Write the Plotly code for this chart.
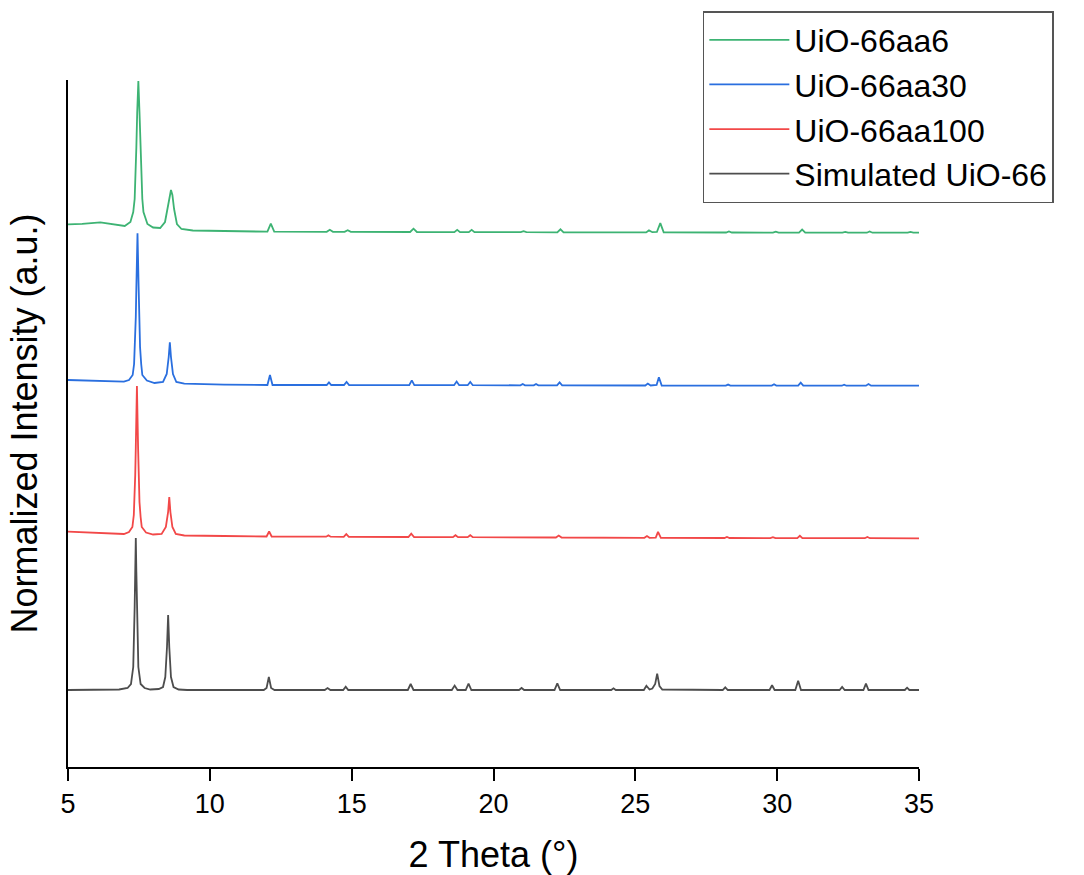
import plotly.graph_objects as go

# ---- data (2θ in degrees, stacked normalized intensity in a.u.) ----
names = ["UiO-66aa6", "UiO-66aa30", "UiO-66aa100", "Simulated UiO-66"]

x_aa6 = [5.0, 5.5, 6.14, 6.6, 7.0, 7.2, 7.3, 7.35, 7.38, 7.41, 7.44, 7.48, 7.52, 7.55, 7.58, 7.62, 7.66, 7.8, 8.0,
         8.25, 8.42, 8.52, 8.58, 8.63, 8.68, 8.74, 8.84, 9.0, 9.4, 10.5,
         12.03, 12.15, 12.27, 14.12, 14.23, 14.34, 14.75, 14.86, 14.97, 17.06, 17.18, 17.3,
         18.62, 18.72, 18.82, 19.13, 19.23, 19.33, 20.96, 21.06, 21.16, 22.25, 22.36, 22.47,
         25.38, 25.48, 25.6, 25.76, 25.88, 26.0, 28.2, 28.3, 28.4, 29.85, 29.95, 30.05,
         30.77, 30.88, 30.99, 32.3, 32.4, 32.5, 33.16, 33.26, 33.36, 34.6, 34.7, 34.8, 35.0]
y_aa6 = [542.7, 543.2, 544.7, 542.5, 541.0, 545.0, 555.0, 568.0, 590.0, 620.0, 655.0, 686.0, 655.0, 620.0, 590.0,
         568.0, 555.0, 543.0, 539.5,
         539.0, 545.0, 560.0, 572.0, 577.0, 572.0, 558.0, 543.0, 538.0, 536.5, 535.8,
         535.3, 543.3, 535.3, 535.2, 537.2, 535.2, 535.1, 536.8, 535.1, 535.0, 538.3, 535.0,
         534.9, 537.2, 534.9, 534.9, 537.2, 534.9, 534.8, 535.8, 534.8, 534.7, 537.7, 534.7,
         534.6, 536.6, 534.8, 535.0, 543.9, 534.6, 534.5, 535.5, 534.5, 534.4, 535.4, 534.4,
         534.4, 537.4, 534.4, 534.4, 535.1, 534.4, 534.3, 535.6, 534.3, 534.3, 535.0, 534.3, 534.3]

x_aa30 = [5.0, 6.0, 6.97, 7.15, 7.28, 7.33, 7.36, 7.39, 7.41, 7.45, 7.49, 7.51, 7.54, 7.58, 7.62, 7.78, 8.05,
          8.35, 8.48, 8.55, 8.59, 8.63, 8.7, 8.82, 9.1, 10.5,
          12.03, 12.12, 12.21, 14.12, 14.2, 14.28, 14.73, 14.82, 14.91, 17.03, 17.12, 17.21,
          18.61, 18.7, 18.79, 19.09, 19.18, 19.27, 20.95, 21.03, 21.11, 21.42, 21.5, 21.58,
          22.24, 22.33, 22.42, 25.35, 25.44, 25.54, 25.75, 25.83, 25.93, 28.19, 28.27, 28.35,
          29.81, 29.89, 29.97, 30.74, 30.83, 30.92, 32.28, 32.36, 32.44, 33.13, 33.22, 33.31, 35.0]
y_aa30 = [387.0, 386.2, 385.3, 387.0, 392.0, 403.0, 420.0, 450.0, 480.0, 533.7, 480.0, 450.0, 420.0, 403.0,
          392.0, 386.5, 384.0,
          385.0, 393.0, 410.0, 424.7, 410.0, 393.0, 385.0, 383.3, 382.3,
          382.0, 392.0, 382.0, 382.0, 384.7, 382.0, 382.0, 385.0, 382.0, 381.9, 386.6, 381.9,
          381.8, 385.5, 381.8, 381.8, 385.1, 381.8, 381.7, 383.0, 381.7, 381.7, 383.0, 381.7,
          381.6, 384.6, 381.6, 381.5, 383.5, 381.5, 382.0, 389.8, 381.5, 381.4, 382.4, 381.4,
          381.4, 382.7, 381.4, 381.4, 384.4, 381.4, 381.3, 382.3, 381.3, 381.3, 383.0, 381.3, 381.3]

x_aa100 = [5.0, 6.0, 6.97, 7.15, 7.27, 7.32, 7.35, 7.37, 7.39, 7.43, 7.47, 7.49, 7.52, 7.56, 7.6, 7.75, 8.0,
           8.3, 8.45, 8.53, 8.57, 8.61, 8.68, 8.8, 9.1, 10.5,
           12.0, 12.09, 12.18, 14.1, 14.18, 14.26, 14.72, 14.81, 14.9, 17.0, 17.1, 17.2,
           18.57, 18.66, 18.75, 19.09, 19.18, 19.27, 22.2, 22.3, 22.4,
           25.32, 25.41, 25.5, 25.72, 25.8, 25.9, 28.14, 28.23, 28.32, 29.76, 29.85, 29.94,
           30.71, 30.8, 30.89, 33.09, 33.18, 33.27, 35.0]
y_aa100 = [235.3, 234.5, 233.0, 235.0, 240.0, 252.0, 270.0, 292.0, 320.0, 381.0, 320.0, 292.0, 265.0, 250.0,
           240.0, 234.5, 232.5,
           233.0, 240.0, 255.0, 270.0, 255.0, 240.0, 233.0, 231.5, 231.0,
           230.5, 235.5, 230.5, 230.3, 231.6, 230.3, 230.2, 232.9, 230.2, 230.0, 233.3, 230.0,
           229.8, 231.8, 229.8, 229.8, 231.8, 229.8, 229.5, 231.5, 229.5,
           229.2, 230.9, 229.2, 229.4, 235.2, 229.2, 229.0, 230.0, 229.0, 228.9, 229.9, 228.9,
           228.9, 231.2, 228.9, 228.8, 230.1, 228.8, 228.7]

x_sim = [5.0, 6.8, 7.1, 7.22, 7.3, 7.33, 7.35, 7.37, 7.39, 7.41, 7.43, 7.45, 7.48, 7.56, 7.7, 7.9, 8.2, 8.35,
         8.43, 8.49, 8.53, 8.57, 8.63, 8.72, 8.9, 9.2,
         11.9, 12.0, 12.08, 12.16, 12.28, 14.05, 14.15, 14.25, 14.7, 14.79, 14.88, 16.98, 17.08, 17.18,
         18.53, 18.63, 18.73, 19.02, 19.12, 19.22, 20.9, 20.99, 21.08, 22.15, 22.25, 22.35,
         24.15, 24.23, 24.31, 25.3, 25.39, 25.5, 25.6, 25.7, 25.77, 25.85, 25.95,
         28.08, 28.17, 28.26, 29.73, 29.82, 29.91, 30.64, 30.74, 30.84, 32.2, 32.29, 32.38,
         33.04, 33.13, 33.22, 34.5, 34.58, 34.66, 35.0]
y_sim = [77.0, 77.5, 79.0, 83.0, 100.0, 128.0, 160.0, 195.0, 229.0, 195.0, 160.0, 128.0, 100.0, 83.0, 79.0,
         77.5, 78.0, 80.0, 90.0, 120.0,
         152.0, 120.0, 90.0, 80.0, 77.5, 77.0,
         77.0, 79.0, 90.0, 79.0, 77.0, 77.0, 79.0, 77.0, 77.0, 80.3, 77.0, 77.0, 83.0, 77.0,
         77.0, 81.4, 77.0, 77.0, 83.3, 77.0, 77.0, 79.0, 77.0, 77.0, 83.7, 77.0,
         77.0, 78.7, 77.0, 77.0, 81.3, 77.5, 78.5, 83.0, 93.3, 81.0, 77.5,
         77.0, 79.7, 77.0, 77.0, 81.7, 77.0, 77.0, 86.3, 77.0, 77.0, 80.0, 77.0,
         77.0, 83.3, 77.0, 77.0, 79.3, 77.0, 77.0]

xs = [x_aa6, x_aa30, x_aa100, x_sim]
ys = [y_aa6, y_aa30, y_aa100, y_sim]
colors = ["#3db373", "#2a6fdf", "#f24848", "#4d4d4d"]

x_ticks = [5, 10, 15, 20, 25, 30, 35]
x_title = "2 Theta (°)"
y_title = "Normalized Intensity (a.u.)"

FONT = "Arial, Liberation Sans, Helvetica, sans-serif"

fig = go.Figure()
for n, x, y, c in zip(names, xs, ys, colors):
    fig.add_trace(go.Scatter(x=x, y=y, mode="lines", name=n,
                             line=dict(color=c, width=1.8)))

fig.update_layout(
    width=1084, height=875,
    margin=dict(l=68, r=165, t=80, b=108, pad=0, autoexpand=False),
    paper_bgcolor="white", plot_bgcolor="white",
    font=dict(family=FONT, color="black"),
    showlegend=True,
    legend=dict(x=0.746, y=1.1004, xanchor="left", yanchor="top",
                bordercolor="#555555", borderwidth=1.5, bgcolor="white",
                font=dict(family=FONT, size=32, color="black"),
                itemwidth=80, tracegroupgap=0),
)
fig.update_xaxes(range=[5, 35], tickvals=x_ticks, ticktext=[str(v) for v in x_ticks],
                 showline=True, linecolor="black", linewidth=2,
                 ticks="outside", ticklen=12, tickwidth=2, tickcolor="black",
                 tickfont=dict(family=FONT, size=27, color="black"),
                 showgrid=False, zeroline=False, automargin=False,
                 title=dict(text=x_title, font=dict(family=FONT, size=36), standoff=26))
fig.update_yaxes(range=[0, 687], showline=True, linecolor="black", linewidth=2,
                 ticks="", showticklabels=False, showgrid=False, zeroline=False, automargin=False,
                 title=dict(text=y_title, font=dict(family=FONT, size=36), standoff=17))

fig.write_html("out.html")
